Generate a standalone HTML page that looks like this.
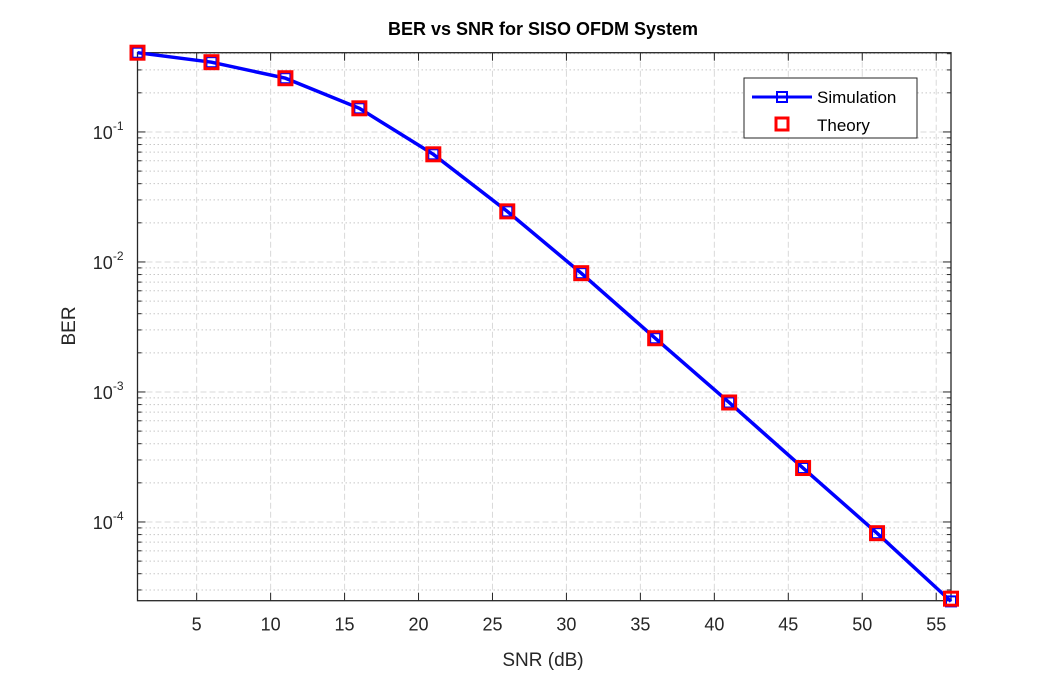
<!DOCTYPE html>
<html><head><meta charset="utf-8"><style>
body{margin:0;background:#fff}
svg{display:block;font-family:"Liberation Sans",Arial,sans-serif}
</style></head><body>
<svg id="c" width="1050" height="675" viewBox="0 0 1050 675">
<rect width="1050" height="675" fill="#fff"/>
<g id="grid"></g><g id="axes"></g><g id="marks"></g>
<text x="543" y="35" text-anchor="middle" font-size="18" font-weight="bold" fill="#000">BER vs SNR for SISO OFDM System</text>
<text x="543" y="666" text-anchor="middle" font-size="19" fill="#262626">SNR (dB)</text>
<text transform="translate(75,326) rotate(-90)" text-anchor="middle" font-size="19" fill="#262626">BER</text>
<g>
<rect x="744" y="78" width="173" height="60" fill="#fff" stroke="#262626" stroke-width="1"/>
<g>
<line x1="752" y1="97" x2="812" y2="97" stroke="#0000ff" stroke-width="3"/>
<rect x="777" y="92" width="10" height="10" fill="none" stroke="#0000ff" stroke-width="2"/>
<text x="817" y="103" font-size="17" fill="#000">Simulation</text></g>
<g>
<rect x="776" y="118" width="12" height="12" fill="none" stroke="#ff0000" stroke-width="3"/>
<text x="817" y="131" font-size="17" fill="#000">Theory</text></g>
</g>
</svg>
<script>
const snr=[1,6,11,16,21,26,31,36,41,46,51,56];
const berSim=[0.407,0.344,0.259,0.152,0.0673,0.0245,0.0082,0.00259,0.00083,0.00026,0.000082,0.0000245];
const berTheory=[0.407,0.344,0.259,0.152,0.0673,0.0245,0.0082,0.00259,0.00083,0.00026,0.000082,0.0000257];
const xTicks=[5,10,15,20,25,30,35,40,45,50,55];
const yDecades=[-4,-3,-2,-1];
const L=137.5,R=951,T=52.7,B=600.7,xMin=1,xMax=56;
const yTop=Math.log10(0.407),yBot=Math.log10(0.0000248);
const X=v=>L+(v-xMin)/(xMax-xMin)*(R-L);
const Y=v=>T+(yTop-Math.log10(v))/(yTop-yBot)*(B-T);
const NS='http://www.w3.org/2000/svg';
function mk(p,t,a){const e=document.createElementNS(NS,t);for(const k in a)e.setAttribute(k,a[k]);p.appendChild(e);return e;}
const g=document.getElementById('grid'),ax=document.getElementById('axes'),m=document.getElementById('marks');
for(let d=-5;d<=0;d++){for(let k=2;k<=9;k++){const v=k*Math.pow(10,d);const y=Y(v);if(y<T||y>B)continue;
const l=mk(g,'line',{x1:L,x2:R,y1:y,y2:y,stroke:'#c8c8c8','stroke-dasharray':'1.5 2.5','stroke-width':1});


mk(ax,'line',{x1:L,x2:L+4,y1:y,y2:y,stroke:'#262626'});mk(ax,'line',{x1:R,x2:R-4,y1:y,y2:y,stroke:'#262626'});}}
yDecades.forEach(d=>{const y=Y(Math.pow(10,d));
const l=mk(g,'line',{x1:L,x2:R,y1:y,y2:y,stroke:'#d9d9d9','stroke-dasharray':'6 3','stroke-width':1});


mk(ax,'line',{x1:L,x2:L+8,y1:y,y2:y,stroke:'#262626'});mk(ax,'line',{x1:R,x2:R-8,y1:y,y2:y,stroke:'#262626'});
const t=mk(ax,'text',{x:L-14,y:y+7,'text-anchor':'end','font-size':18,fill:'#262626'});


t.innerHTML='10<tspan dy="-9" font-size="12">'+d+'</tspan>';});
xTicks.forEach(v=>{const x=X(v);
const l=mk(g,'line',{x1:x,x2:x,y1:T,y2:B,stroke:'#d9d9d9','stroke-dasharray':'6 3','stroke-width':1});


mk(ax,'line',{x1:x,x2:x,y1:B,y2:B-8,stroke:'#262626'});mk(ax,'line',{x1:x,x2:x,y1:T,y2:T+8,stroke:'#262626'});
const t=mk(ax,'text',{x:x,y:B+30,'text-anchor':'middle','font-size':18,fill:'#262626'});


t.textContent=v;});
const fr=mk(ax,'rect',{x:L,y:T,width:R-L,height:B-T,fill:'none',stroke:'#262626','stroke-width':1.3});


const pl=mk(m,'polyline',{points:snr.map((s,i)=>X(s)+','+Y(berSim[i])).join(' '),fill:'none',stroke:'#0000ff','stroke-width':3.5});


snr.forEach((s,i)=>{const r=mk(m,'rect',{x:X(s)-5,y:Y(berSim[i])-5,width:10,height:10,fill:'none',stroke:'#0000ff','stroke-width':2});

});
snr.forEach((s,i)=>{const r=mk(m,'rect',{x:X(s)-6.5,y:Y(berTheory[i])-6.5,width:13,height:13,fill:'none',stroke:'#ff0000','stroke-width':3});

});
</script>
</body></html>
